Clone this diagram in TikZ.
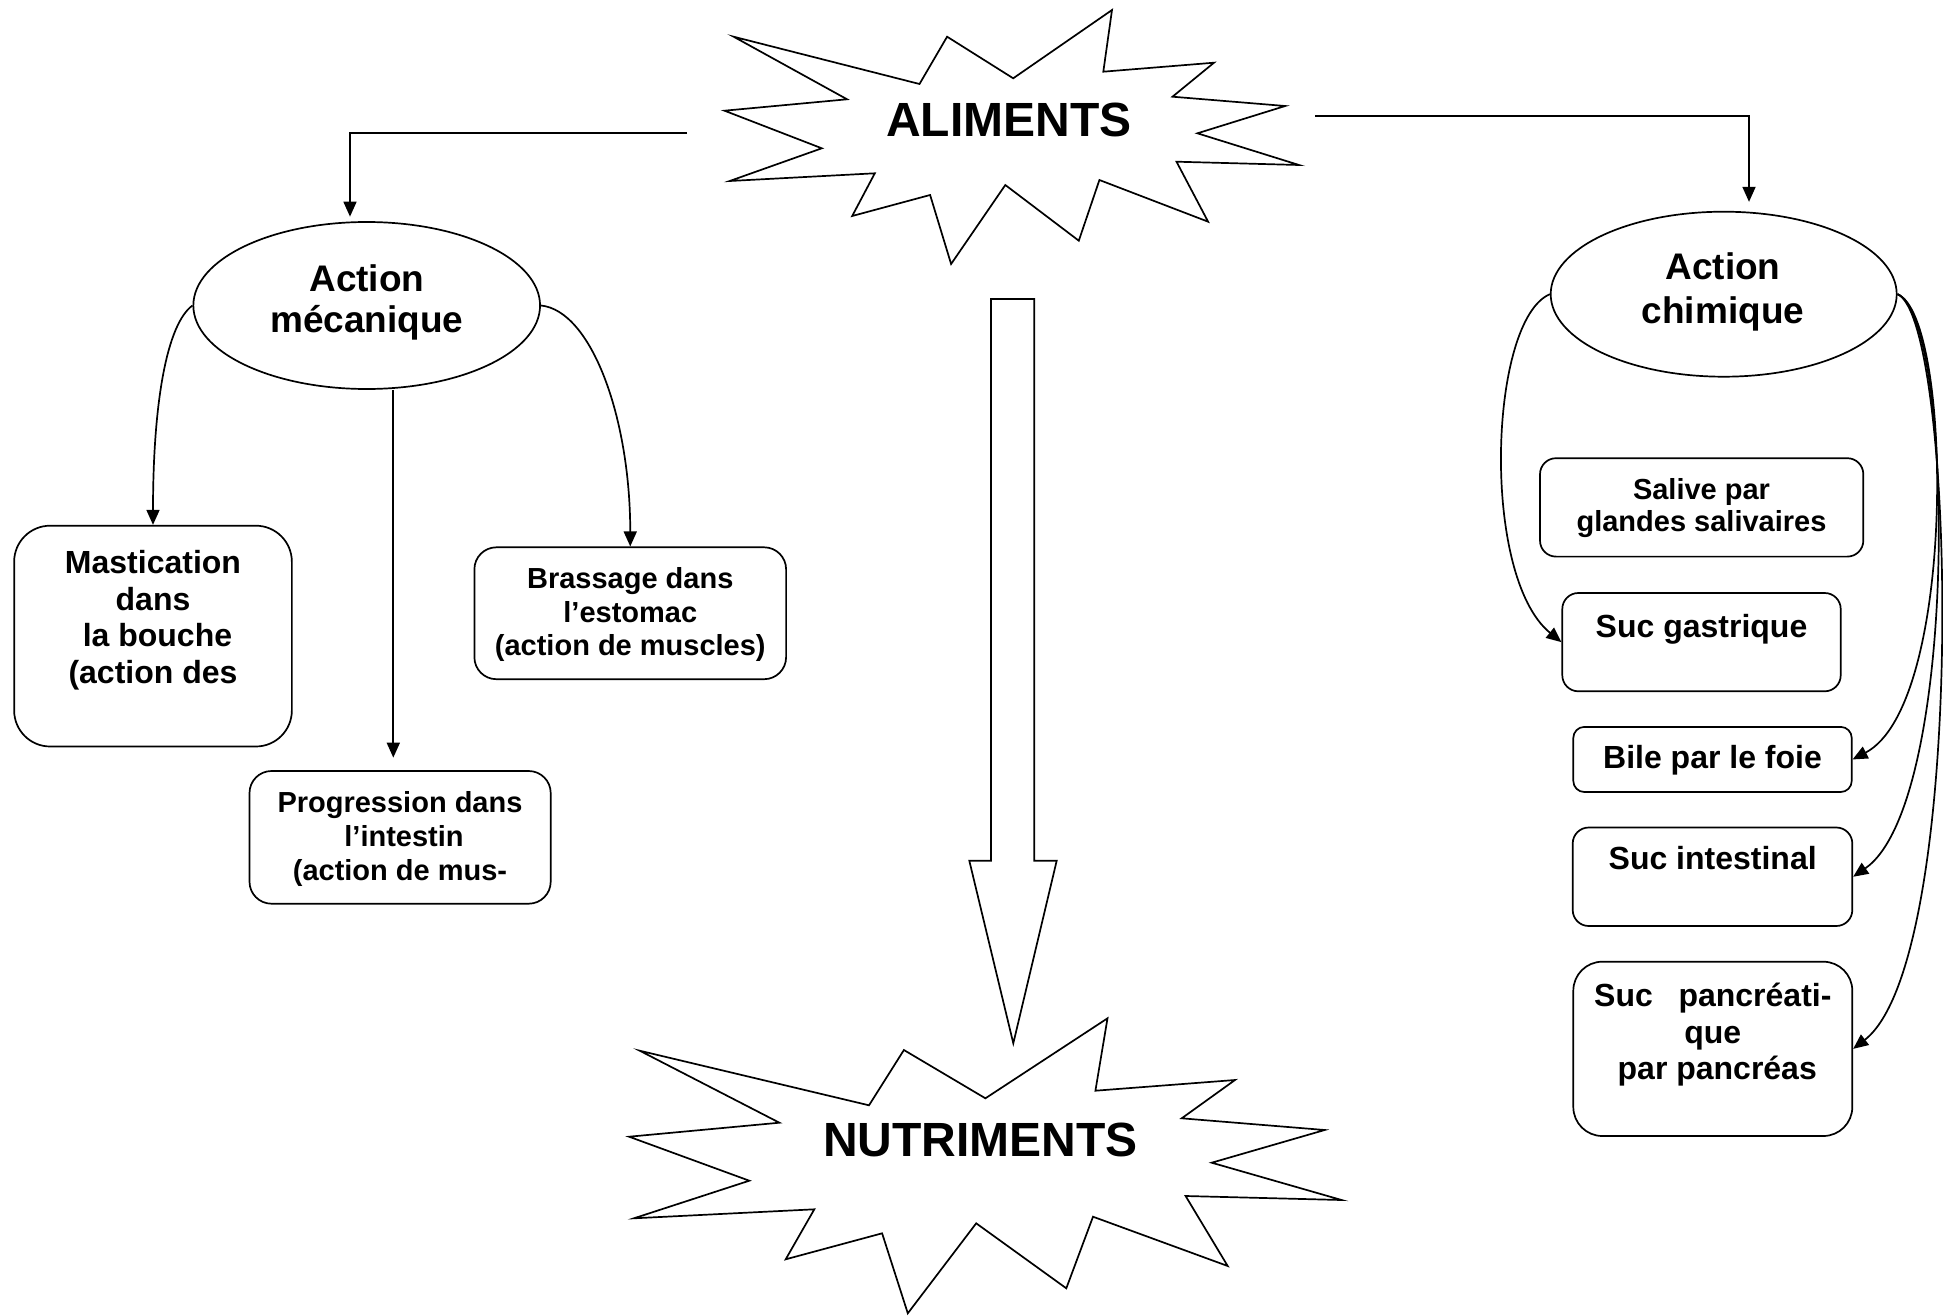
\documentclass[tikz,border=0pt]{standalone}
\usepackage{fontspec}
\setmainfont{Liberation Sans}
\usetikzlibrary{shapes.geometric,arrows.meta}
\newcommand{\police}[2]{\fontsize{#1}{#2}\selectfont\bfseries}
\tikzset{
  trait/.style={line width=1.7pt},
  fleche/.style={trait, -{Triangle[length=15pt,width=13pt]}},
  bulle/.style={draw, trait, ellipse, inner sep=0pt},
  boite/.style={draw, trait, rectangle, inner sep=0pt},
  etiq/.style={inner sep=0pt, align=center}}

\begin{document}
\begin{tikzpicture}[x=1pt,y=-1pt]
\useasboundingbox (0,0) rectangle (1943,1316);
\draw [trait] (733.6,36.7) -- (919.5,84) -- (947.1,36.7) -- (1013.2,78.3) -- (1112,10) -- (1103.3,71.7) -- (1214,62.7) -- (1172.5,96.7) -- (1285.2,106) -- (1197.4,133.3) -- (1299,165) -- (1176.5,161.7) -- (1208.1,221.7) -- (1099.4,180) -- (1078.8,240.7) -- (1005.3,185) -- (951.1,264) -- (930.1,195) -- (852.2,216) -- (874.8,173.3) -- (729.7,181) -- (821.8,148.3) -- (724.5,110.7) -- (847.1,99.3) -- cycle;
\draw [trait] (639.7,1050.7) -- (869,1105.3) -- (903.9,1050) -- (985.4,1098.3) -- (1107.5,1018.3) -- (1095.4,1090.7) -- (1235,1080) -- (1181.7,1118.3) -- (1324.7,1130) -- (1211.7,1162.7) -- (1341.6,1200) -- (1185.6,1196) -- (1227.7,1266) -- (1093,1216.7) -- (1066.3,1288.3) -- (976.2,1223.3) -- (907.8,1313.3) -- (882.1,1233.3) -- (785.7,1259.3) -- (814.3,1209.3) -- (633.9,1218.3) -- (749.3,1180.7) -- (629.1,1136.7) -- (779.4,1122.7) -- cycle;
\draw [trait] (991,299) -- (1034.3,299) -- (1034.3,860.7) -- (1056.7,860.7) -- (1013.3,1043.3) -- (969.3,860.7) -- (991,860.7) -- cycle;
\node [etiq, font=\police{48}{55}, anchor=base] (aliments) at (1008.8,136.7) {ALIMENTS};
\node [etiq, font=\police{48}{55}, anchor=base] (nutriments) at (980.5,1156.7) {NUTRIMENTS};

\node [bulle, minimum width=346.7pt, minimum height=167pt] (meca) at (366.7,305.5) {};
\node [etiq, font=\police{37}{41}] (mecaT) at (366.9,302.9) {Action\\mécanique};
\node [bulle, minimum width=346pt, minimum height=165pt] (chim) at (1723.7,294.2) {};
\node [etiq, font=\police{37}{43.5}] (chimT) at (1723,291.7) {Action\\chimique};

\node [boite, rounded corners=36pt, minimum width=277.7pt, minimum height=220.8pt] (mast) at (153,636.1) {};
\node [etiq, font=\police{32}{36.5}] (mastT) at (153,620.4) {Mastication\\dans\\\ la bouche\\(action des};
\node [boite, rounded corners=22pt, minimum width=311.7pt, minimum height=131.9pt] (brass) at (630.25,613.25) {};
\node [etiq, font=\police{29}{33.7}] (brassT) at (630.3,614.5) {Brassage dans\\l’estomac\\(action de muscles)};
\node [boite, rounded corners=22pt, minimum width=301.2pt, minimum height=132.7pt] (prog) at (400.1,837.35) {};
\node [etiq, font=\police{29}{34}] (progT) at (400,839.3) {Progression dans\\\ l’intestin\\(action de mus-};

\node [boite, rounded corners=16pt, minimum width=323.3pt, minimum height=98.4pt] (sal) at (1701.65,507.4) {};
\node [etiq, font=\police{29}{32.5}] (salT) at (1701.5,508.1) {Salive par\\glandes salivaires};
\node [boite, rounded corners=16pt, minimum width=278.4pt, minimum height=98.3pt] (gast) at (1701.5,642.15) {};
\node [etiq, font=\police{32}{36.5}, anchor=base] (gastT) at (1701.5,637) {Suc gastrique};
\node [boite, rounded corners=11pt, minimum width=278.4pt, minimum height=65.1pt] (bile) at (1712.5,759.45) {};
\node [etiq, font=\police{32}{36.5}, anchor=base] (bileT) at (1712.5,768.2) {Bile par le foie};
\node [boite, rounded corners=16pt, minimum width=279.6pt, minimum height=98.5pt] (intest) at (1712.5,876.75) {};
\node [etiq, font=\police{32}{36.5}, anchor=base] (intestT) at (1712.7,869) {Suc intestinal};
\node [boite, rounded corners=29pt, minimum width=279pt, minimum height=174.3pt] (panc) at (1712.8,1048.85) {};
\node [etiq, font=\police{32}{36.7}] (pancT) at (1712.8,1034.8) {Suc\hspace{25.7pt}pancréati-\\que\\\ par pancréas};

\coordinate (depG) at (687,132.7);
\coordinate (depD) at (1315,116);
\draw [fleche] (depG) -| ([xshift=-16.7pt,yshift=4.5pt]meca.north);
\draw [fleche] (depD) -| ([xshift=25.3pt,yshift=9pt]chim.north);
\draw [fleche] (meca.west) .. controls +(-25,18) and +(0,-125) .. (mast.north);
\draw [fleche] (meca.east) .. controls +(50,5) and +(0,-130) .. (brass.north);
\draw [fleche] ([xshift=26.6pt]meca.south) -- ([xshift=-6.8pt,yshift=12.5pt]prog.north);
\draw [fleche] (chim.west) .. controls +(-61,26) and +(-81,-66) .. (gast.west);
\draw [fleche] (chim.east) .. controls +(55,22) and +(105,-55) .. (bile.east);
\draw [fleche] (chim.east) .. controls +(57,24) and +(107,-74) .. (intest.east);
\draw [fleche] (chim.east) .. controls +(59,26) and +(115,-89) .. (panc.east);
\end{tikzpicture}
\end{document}
